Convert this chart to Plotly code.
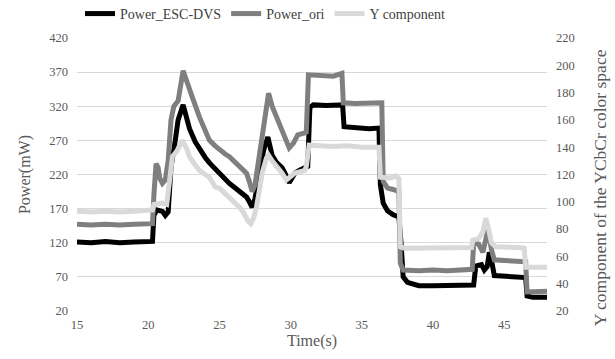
import plotly.graph_objects as go

# Power drawn with ESC-DVS (mW)
t_esc = [15.0, 16.0, 17.0, 18.0, 19.0, 20.0, 20.3, 20.4, 20.6, 21.0, 21.2, 21.4, 21.6, 21.9, 22.1,
         22.45, 22.7, 22.9, 23.3, 23.6, 24.0, 24.3, 24.7, 25.0, 25.4, 25.7, 26.0, 26.4, 26.7, 26.9,
         27.1, 27.3, 27.5, 27.8, 28.1, 28.4, 28.7, 29.0, 29.4, 29.6, 29.9, 30.1, 30.3, 30.6, 31.0,
         31.2, 31.35, 31.6, 32.5, 33.5, 33.65, 33.75, 34.5, 35.5, 36.2, 36.3, 36.5, 36.8, 37.2, 37.6,
         37.75, 37.9, 38.2, 39.0, 40.0, 41.0, 42.0, 42.85, 43.0, 43.4, 43.6, 43.8, 43.95, 44.1, 44.3,
         45.0, 46.0, 46.5, 46.6, 47.0, 48.0]
p_esc = [121, 120, 122, 120, 121, 121, 122, 160, 168, 166, 160, 165, 230, 270, 300,
         322, 305, 287, 268, 257, 245, 237, 228, 222, 214, 207, 202, 196, 192, 187,
         180, 172, 185, 225, 255, 275, 248, 238, 230, 222, 208, 215, 222, 226, 229,
         232, 318, 322, 321, 323, 322, 290, 288, 287, 288, 205, 178, 167, 161, 158,
         120, 70, 62, 57, 57, 57, 57, 58, 86, 88, 80, 85, 106, 95, 72,
         71, 70, 69, 42, 40, 40]

# Original power (mW)
t_ori = [15.0, 16.0, 17.0, 18.0, 19.0, 20.0, 20.3, 20.4, 20.55, 20.7, 20.8, 21.0, 21.2, 21.4, 21.6,
         21.8, 22.1, 22.45, 22.7, 23.1, 23.6, 24.0, 24.3, 24.7, 25.0, 25.4, 25.7, 26.0, 26.4, 26.7,
         26.9, 27.1, 27.3, 27.5, 27.8, 28.1, 28.45, 28.7, 29.0, 29.3, 29.5, 29.9, 30.2, 30.5, 31.0,
         31.1, 31.25, 32.0, 33.0, 33.6, 33.7, 34.5, 35.5, 36.4, 36.5, 36.8, 37.2, 37.5, 37.6, 37.7,
         37.9, 39.0, 40.0, 41.0, 42.0, 42.75, 42.85, 43.2, 43.5, 43.7, 43.85, 44.1, 44.3, 45.0, 46.0,
         46.5, 46.6, 47.0, 48.0]
p_ori = [147, 146, 147, 146, 147, 147, 148, 190, 236, 230, 215, 207, 212, 240, 300,
         320, 328, 372, 355, 333, 304, 285, 270, 262, 256, 250, 246, 240, 231, 226,
         222, 210, 195, 205, 246, 290, 339, 320, 304, 290, 280, 259, 266, 278, 281,
         282, 366, 365, 364, 368, 325, 324, 325, 325, 210, 200, 198, 197, 195, 90,
         80, 79, 80, 79, 80, 81, 120, 118, 106, 125, 139, 110, 95, 94, 93,
         92, 48, 48, 49]

# Y component of the YCbCr colour space (secondary axis)
t_y = [15.0, 16.0, 17.0, 18.0, 19.0, 20.0, 20.3, 20.4, 21.0, 21.3, 21.5, 21.7, 22.0, 22.4, 22.7,
       22.9, 23.3, 23.6, 24.0, 24.3, 24.7, 25.0, 25.4, 25.7, 26.1, 26.4, 26.7, 27.0, 27.2, 27.4,
       27.6, 27.8, 28.0, 28.3, 28.45, 28.7, 29.1, 29.4, 29.7, 30.0, 30.3, 31.0, 31.1, 31.3, 32.0,
       33.0, 34.0, 35.0, 36.2, 36.3, 37.0, 37.4, 37.6, 37.7, 38.0, 40.0, 42.0, 42.7, 42.8, 43.2,
       43.5, 43.7, 43.9, 44.1, 44.4, 45.0, 46.0, 46.4, 46.5, 47.0, 48.0]
y_comp = [93, 92.5, 93, 92.5, 93, 93.5, 94, 98, 99, 98, 115, 133, 137, 145, 139,
          133, 127, 123, 120, 118, 111, 110, 106, 103.5, 99, 96, 92, 86, 84, 88,
          96, 108, 121, 132, 134, 130, 125.5, 121, 116, 119, 121, 123, 126, 141.5, 141,
          140.5, 141, 140, 140, 118, 117.5, 119, 117, 67, 66, 66, 66, 66.5, 72, 73,
          78, 88, 80, 70, 67, 67, 66.5, 66, 52, 52, 52]

FONT = "Liberation Serif, Times New Roman, serif"
TXT = "#595959"

fig = go.Figure()
fig.add_trace(go.Scatter(x=t_esc, y=p_esc, mode="lines", name="Power_ESC-DVS",
                         line=dict(color="#000000", width=5)))
fig.add_trace(go.Scatter(x=t_ori, y=p_ori, mode="lines", name="Power_ori",
                         line=dict(color="#7f7f7f", width=5)))
fig.add_trace(go.Scatter(x=t_y, y=y_comp, mode="lines", name="Y component", yaxis="y2",
                         line=dict(color="#d9d9d9", width=5)))

fig.update_layout(
    width=615, height=359,
    margin=dict(l=77, r=68, t=38, b=48, autoexpand=False),
    paper_bgcolor="white", plot_bgcolor="white",
    font=dict(family=FONT, color=TXT, size=13),
    showlegend=True,
    legend=dict(orientation="h", x=0.40, xanchor="center", y=1.088, yanchor="middle",
                font=dict(family=FONT, size=14, color="#404040"),
                bgcolor="rgba(0,0,0,0)", itemwidth=30),
    xaxis=dict(range=[15, 48], tickvals=[15, 20, 25, 30, 35, 40, 45], showgrid=False,
               zeroline=False, showline=False, ticks="", ticklabelstandoff=4,
               tickfont=dict(family=FONT, size=12.5, color=TXT),
               title=dict(text="Time(s)", font=dict(family=FONT, size=16, color=TXT), standoff=4)),
    yaxis=dict(range=[20, 420], tickvals=list(range(20, 421, 50)), showgrid=True,
               gridcolor="#d9d9d9", gridwidth=1, zeroline=False, showline=False, ticks="",
               ticklabelstandoff=8,
               tickfont=dict(family=FONT, size=12.5, color=TXT),
               title=dict(text="Power(mW)", font=dict(family=FONT, size=16, color=TXT), standoff=14)),
    yaxis2=dict(range=[20, 220], tickvals=list(range(20, 221, 20)), overlaying="y", side="right",
                showgrid=False, zeroline=False, showline=False, ticks="",
                ticklabelstandoff=8,
                tickfont=dict(family=FONT, size=12.5, color=TXT)),
    annotations=[dict(text="Y component of the YCbCr color space", textangle=-90,
                      xref="paper", yref="paper", x=1.113, y=0.45,
                      xanchor="center", yanchor="middle", showarrow=False,
                      font=dict(family=FONT, size=17.5, color=TXT))],
)

fig.write_html("out.html")
